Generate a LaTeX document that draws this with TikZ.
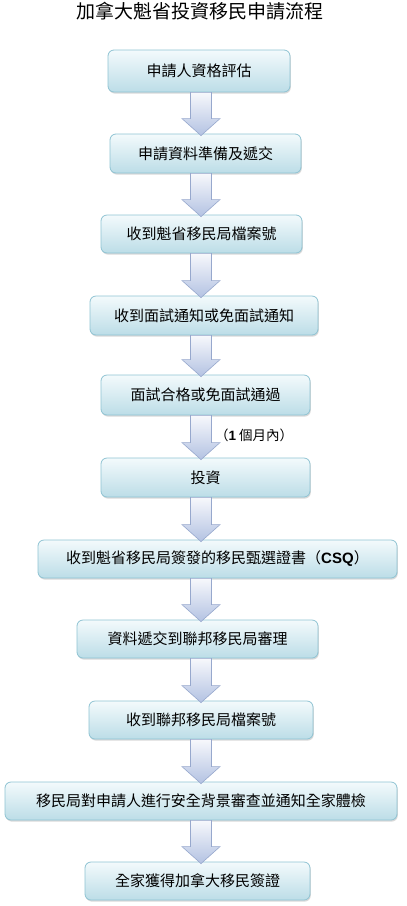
\documentclass[tikz,border=0pt]{standalone}
\usepackage{fontspec}
\setmainfont{Noto Sans CJK TC}
\newfontfamily\latinfont{Liberation Sans}
\usetikzlibrary{calc, shadows}

\definecolor{boxtop}{HTML}{F3FAFC}
\definecolor{boxbottom}{HTML}{BCDDE7}
\definecolor{boxline}{HTML}{8FC3D3}
\definecolor{arrowtop}{HTML}{F7F8FC}
\definecolor{arrowbottom}{HTML}{B3C2E2}
\definecolor{arrowline}{HTML}{97A8CD}

\tikzset{
  stepbox/.style={draw=boxline, line width=0.8pt, rounded corners=6pt,
    top color=boxtop, bottom color=boxbottom, minimum height=39pt,
    inner sep=0pt, font=\fontsize{15}{18}\selectfont,
    drop shadow={shadow xshift=0.8pt, shadow yshift=-1.6pt, opacity=0.3}},
  blockarrow/.style={draw=arrowline, line width=0.6pt,
    top color=arrowtop, bottom color=arrowbottom}
}

% block arrow from the bottom of one box to the top of the next
\newcommand{\flowarrow}[2]{%
  \draw[blockarrow] let \p3=(axis), \p1=(#1.south), \p2=(#2.north) in
    (\x3-10.5pt,\y1) -- (\x3+10.5pt,\y1) -- (\x3+10.5pt,\y2+15pt)
    -- (\x3+19pt,\y2+15pt) -- (\x3,\y2-2pt) -- (\x3-19pt,\y2+15pt)
    -- (\x3-10.5pt,\y2+15pt) -- cycle;}

\begin{document}
\begin{tikzpicture}[x=1pt, y=-1pt]
\useasboundingbox (0,0) rectangle (407,906);
\coordinate (axis) at (201,0);

\node[font=\fontsize{19}{22}\selectfont] (title) at (200,11) {加拿大魁省投資移民申請流程};

\node[stepbox, minimum width=182pt, minimum height=42pt] (assess) at (199,71) {申請人資格評估};
\node[stepbox, minimum width=191pt] (submit) at (205.5,153.5) {申請資料準備及遞交};
\node[stepbox, minimum width=201pt, minimum height=38pt] (qfile) at (201.5,234) {收到魁省移民局檔案號};
\node[stepbox, minimum width=228pt] (notice) at (204,315.5) {收到面試通知或免面試通知};
\node[stepbox, minimum width=209pt, minimum height=40pt] (passed) at (205.5,395) {面試合格或免面試通過};
\node[stepbox, minimum width=209pt] (invest) at (205.5,477.5) {投資};
\node[stepbox, minimum width=359pt, minimum height=38pt] (csq) at (217.5,559) {收到魁省移民局簽發的移民甄選證書（{\latinfont\bfseries CSQ}）};
\node[stepbox, minimum width=241pt, minimum height=38pt] (federal) at (197.5,639) {資料遞交到聯邦移民局審理};
\node[stepbox, minimum width=224pt, minimum height=38pt] (ffile) at (201,720) {收到聯邦移民局檔案號};
\node[stepbox, minimum width=392pt, minimum height=38pt] (check) at (201,801) {移民局對申請人進行安全背景審查並通知全家體檢};
\node[stepbox, minimum width=225pt, minimum height=38pt] (visa) at (197.5,881) {全家獲得加拿大移民簽證};

\flowarrow{assess}{submit}
\flowarrow{submit}{qfile}
\flowarrow{qfile}{notice}
\flowarrow{notice}{passed}
\flowarrow{passed}{invest}
\flowarrow{invest}{csq}
\flowarrow{csq}{federal}
\flowarrow{federal}{ffile}
\flowarrow{ffile}{check}
\flowarrow{check}{visa}

\node[anchor=west, inner sep=0pt, font=\fontsize{13.5}{16}\selectfont] (month) at (215,435) {（{\latinfont\bfseries 1} 個月內）};
\end{tikzpicture}
\end{document}
